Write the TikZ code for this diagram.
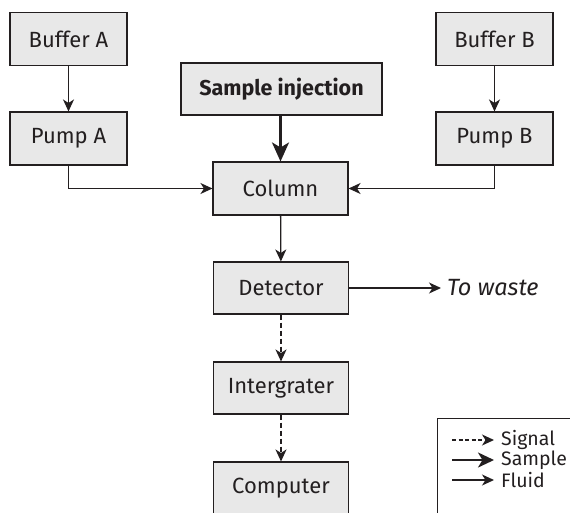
\documentclass[tikz,border=0pt]{standalone}
\usepackage{fontspec}
\setmainfont{Fira Sans}
\usetikzlibrary{arrows.meta}
\definecolor{boxfill}{HTML}{E8E8E8}
\definecolor{ink}{HTML}{231F20}
\tikzset{
  stepbox/.style={draw=ink, fill=boxfill, line width=1.1pt, minimum width=117pt, minimum height=53pt, inner sep=0pt, font=\fontsize{22}{25}\selectfont, text=ink},
  colbox/.style={stepbox, minimum width=135pt},
  fluid/.style={draw=ink, line width=1.3pt, -{Stealth[length=12pt,width=11pt,inset=3.5pt]}},
  signal/.style={fluid, dash pattern=on 5pt off 3pt},
  sample/.style={draw=ink, line width=2.5pt, -{Stealth[length=19pt,width=17pt,inset=5pt]}},
  legtext/.style={anchor=west, inner sep=0pt, font=\fontsize{19.5}{22}\selectfont, text=ink},
}
\begin{document}
\begin{tikzpicture}[x=1pt,y=-1pt]
\useasboundingbox (0,0) rectangle (570,512);
\clip (0,0) rectangle (570,512);
\node[stepbox] (ba) at (68.5,39) {Buffer A};
\node[stepbox] (pa) at (68.5,138.5) {Pump A};
\node[stepbox, minimum width=201pt, minimum height=52pt, font=\fontsize{21.5}{24}\selectfont\bfseries] (si) at (281.5,89) {Sample injection};
\node[colbox] (col) at (280.5,188.5) {Column};
\node[stepbox] (bb) at (494.5,39) {Buffer B};
\node[stepbox] (pb) at (494.5,138.5) {Pump B};
\node[colbox, minimum height=52pt] (det) at (281,288) {Detector};
\node[colbox, minimum height=52pt] (int) at (281,388) {Intergrater};
\node[colbox, minimum height=52pt] (comp) at (281,488) {Computer};
\coordinate (wasteend) at (441,288);
\node[anchor=west, inner sep=0pt, font=\fontsize{23.5}{26}\selectfont\itshape, text=ink] (waste) at (447,288) {To waste};

\draw[fluid] (ba) -- (pa);
\draw[fluid] (bb) -- (pb);
\draw[sample] (si.south -| col.north) -- (col.north);
\draw[fluid] (pa.south) |- (col.west);
\draw[fluid] (pb.south) |- (col.east);
\draw[fluid] (col) -- (det);
\draw[fluid] (det.east) -- (wasteend);
\draw[signal] (det) -- (int);
\draw[signal] (int) -- (comp);

% legend
\node[draw=ink, line width=1.1pt, anchor=north west, minimum width=150pt, minimum height=110pt] (leg) at (437,418) {};
\coordinate (l1a) at (452,440); \coordinate (l1b) at (494,440);
\coordinate (l2a) at (452,460); \coordinate (l2b) at (494,460);
\coordinate (l3a) at (452,480); \coordinate (l3b) at (494,480);
\draw[signal, dash pattern=on 4pt off 2.5pt] (l1a) -- (l1b);
\draw[draw=ink, line width=2.2pt, -{Stealth[length=16pt,width=15pt,inset=4.5pt]}] (l2a) -- (l2b);
\draw[fluid] (l3a) -- (l3b);
\node[legtext] (t1) at (501,440) {Signal};
\node[legtext] (t2) at (501,460) {Sample};
\node[legtext] (t3) at (501,480) {Fluid};
\end{tikzpicture}
\end{document}
